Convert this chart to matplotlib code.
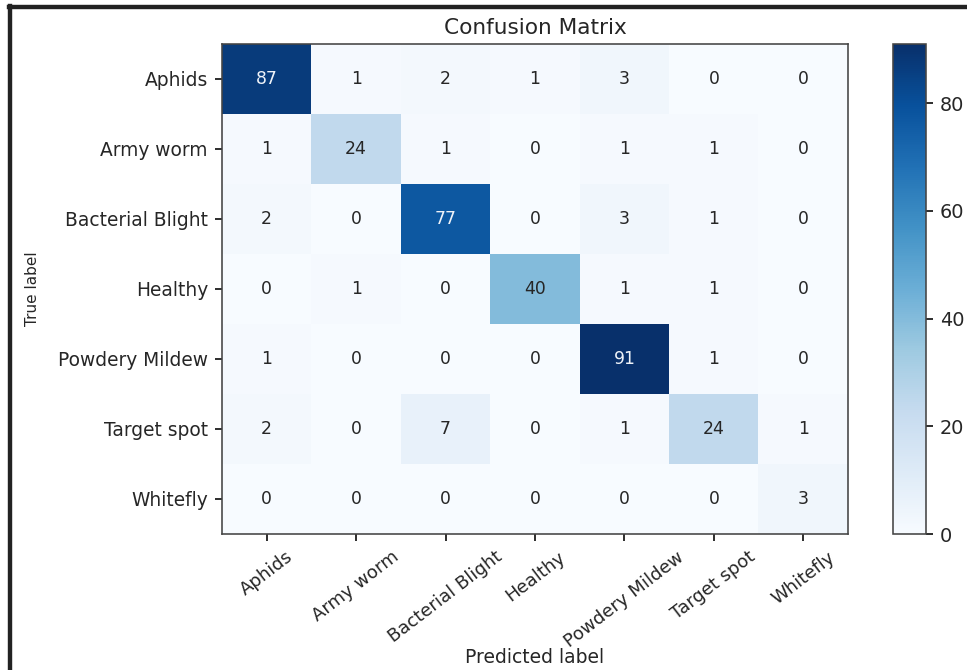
import matplotlib
matplotlib.use('Agg')
import matplotlib.pyplot as plt
import numpy as np
from matplotlib.lines import Line2D

# Class names and confusion counts (rows = true, cols = predicted)
classes = ['Aphids', 'Army worm', 'Bacterial Blight', 'Healthy',
           'Powdery Mildew', 'Target spot', 'Whitefly']
row_aphids = [87, 1, 2, 1, 3, 0, 0]
row_army_worm = [1, 24, 1, 0, 1, 1, 0]
row_bacterial_blight = [2, 0, 77, 0, 3, 1, 0]
row_healthy = [0, 1, 0, 40, 1, 1, 0]
row_powdery_mildew = [1, 0, 0, 0, 91, 1, 0]
row_target_spot = [2, 0, 7, 0, 1, 24, 1]
row_whitefly = [0, 0, 0, 0, 0, 0, 3]

cm = np.array([row_aphids, row_army_worm, row_bacterial_blight, row_healthy,
               row_powdery_mildew, row_target_spot, row_whitefly])

text_color = '#262626'
dpi = 144
fig = plt.figure(figsize=(967 / dpi, 670 / dpi), dpi=dpi)
ax = fig.add_axes([222 / 967, 1 - 534 / 670, 626 / 967, 490 / 670])
cax = fig.add_axes([893 / 967, 1 - 534 / 670, 33 / 967, 490 / 670])

im = ax.imshow(cm, interpolation='nearest', cmap=plt.cm.Blues, aspect='auto')
ax.set_title('Confusion Matrix', fontsize=10.8, color=text_color, pad=5)
cb = fig.colorbar(im, cax=cax)
cb.ax.tick_params(labelsize=9.6, labelcolor=text_color)
cb.outline.set_edgecolor('#444444')

ticks = np.arange(len(classes))
ax.set_xticks(ticks)
ax.set_xticklabels(classes, rotation=37.5, fontsize=9.0, color=text_color)
ax.set_yticks(ticks)
ax.set_yticklabels(classes, fontsize=9.3, color=text_color)
for s in ax.spines.values():
    s.set_edgecolor('#444444')

thresh = cm.max() / 2.
for i in range(cm.shape[0]):
    for j in range(cm.shape[1]):
        ax.text(j, i, format(cm[i, j], 'd'), ha='center', va='center',
                fontsize=8.6,
                color='#eef2f8' if cm[i, j] > thresh else text_color)

ax.set_ylabel('True label', fontsize=7.6, color=text_color)
ax.yaxis.set_label_coords(-0.291, 0.5)
ax.set_xlabel('Predicted label', fontsize=9.4, color=text_color)
ax.xaxis.set_label_coords(0.5, -0.233)

# dark frame along the top and left edges
fig.add_artist(Line2D([9.5 / 967, 9.5 / 967], [0, 1 - 6 / 670],
                      transform=fig.transFigure, color='#222222', lw=2.2))
fig.add_artist(Line2D([8.5 / 967, 1], [1 - 7 / 670, 1 - 7 / 670],
                      transform=fig.transFigure, color='#222222', lw=2.2))

fig.savefig('out.png', dpi=dpi)
